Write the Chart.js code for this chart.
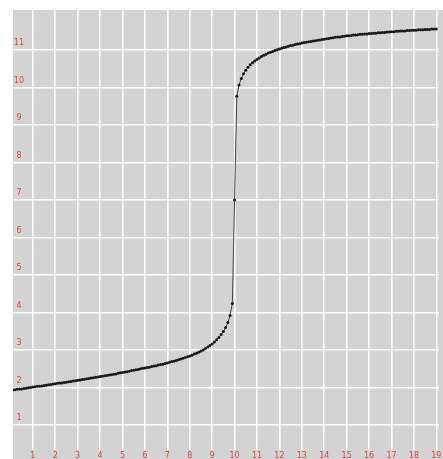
<!DOCTYPE html>
<html>
<head>
<meta charset="utf-8">
<script src="https://cdn.jsdelivr.net/npm/chart.js@4.4.1/dist/chart.umd.min.js"></script>
<style>
	html, body { margin: 0; padding: 0; background: #fff; }
	canvas { display: block; }
</style>
</head>
<body>
<canvas id="chart" width="443" height="459"></canvas>
<script>
// titration data
const volume = [
	0.0, 0.1, 0.2, 0.3, 0.4, 0.5, 0.6, 0.7, 0.8, 0.9,
	1.0, 1.1, 1.2, 1.3, 1.4, 1.5, 1.6, 1.7, 1.8, 1.9,
	2.0, 2.1, 2.2, 2.3, 2.4, 2.5, 2.6, 2.7, 2.8, 2.9,
	3.0, 3.1, 3.2, 3.3, 3.4, 3.5, 3.6, 3.7, 3.8, 3.9,
	4.0, 4.1, 4.2, 4.3, 4.4, 4.5, 4.6, 4.7, 4.8, 4.9,
	5.0, 5.1, 5.2, 5.3, 5.4, 5.5, 5.6, 5.7, 5.8, 5.9,
	6.0, 6.1, 6.2, 6.3, 6.4, 6.5, 6.6, 6.7, 6.8, 6.9,
	7.0, 7.1, 7.2, 7.3, 7.4, 7.5, 7.6, 7.7, 7.8, 7.9,
	8.0, 8.1, 8.2, 8.3, 8.4, 8.5, 8.6, 8.7, 8.8, 8.9,
	9.0, 9.1, 9.2, 9.3, 9.4, 9.5, 9.6, 9.7, 9.8, 9.9,
	10.0,
	10.1, 10.2, 10.3, 10.4, 10.5, 10.6, 10.7, 10.8, 10.9,
	11.0, 11.1, 11.2, 11.3, 11.4, 11.5, 11.6, 11.7, 11.8, 11.9,
	12.0, 12.1, 12.2, 12.3, 12.4, 12.5, 12.6, 12.7, 12.8, 12.9,
	13.0, 13.1, 13.2, 13.3, 13.4, 13.5, 13.6, 13.7, 13.8, 13.9,
	14.0, 14.1, 14.2, 14.3, 14.4, 14.5, 14.6, 14.7, 14.8, 14.9,
	15.0, 15.1, 15.2, 15.3, 15.4, 15.5, 15.6, 15.7, 15.8, 15.9,
	16.0, 16.1, 16.2, 16.3, 16.4, 16.5, 16.6, 16.7, 16.8, 16.9,
	17.0, 17.1, 17.2, 17.3, 17.4, 17.5, 17.6, 17.7, 17.8, 17.9,
	18.0, 18.1, 18.2, 18.3, 18.4, 18.5, 18.6, 18.7, 18.8, 18.9,
	19.0,
]
const acidPH = [
	1.92, 1.93, 1.94, 1.95, 1.96, 1.96, 1.97, 1.98, 1.99, 2.00,
	2.01, 2.02, 2.03, 2.03, 2.04, 2.05, 2.06, 2.07, 2.08, 2.09,
	2.10, 2.11, 2.12, 2.12, 2.13, 2.14, 2.15, 2.16, 2.17, 2.18,
	2.19, 2.20, 2.21, 2.22, 2.23, 2.24, 2.25, 2.26, 2.27, 2.28,
	2.29, 2.30, 2.31, 2.32, 2.33, 2.34, 2.35, 2.36, 2.38, 2.39,
	2.40, 2.41, 2.42, 2.43, 2.45, 2.46, 2.47, 2.48, 2.50, 2.51,
	2.52, 2.53, 2.54, 2.56, 2.57, 2.58, 2.60, 2.61, 2.62, 2.64,
	2.65, 2.67, 2.69, 2.70, 2.72, 2.74, 2.76, 2.78, 2.80, 2.82,
	2.84, 2.86, 2.89, 2.91, 2.94, 2.97, 3.00, 3.04, 3.08, 3.12,
	3.16, 3.21, 3.27, 3.33, 3.41, 3.49, 3.60, 3.73, 3.92, 4.24,
]
const equivalencePH = [7.00]
const basePH = [
	9.77, 10.07, 10.24, 10.37, 10.46, 10.54, 10.61, 10.66, 10.71,
	10.75, 10.79, 10.83, 10.86, 10.89, 10.92, 10.94, 10.96, 10.99, 11.01,
	11.03, 11.05, 11.07, 11.08, 11.10, 11.12, 11.13, 11.15, 11.16, 11.17,
	11.19, 11.20, 11.21, 11.22, 11.23, 11.24, 11.25, 11.26, 11.27, 11.28,
	11.29, 11.30, 11.31, 11.32, 11.33, 11.34, 11.35, 11.35, 11.36, 11.37,
	11.38, 11.38, 11.39, 11.40, 11.40, 11.41, 11.42, 11.42, 11.43, 11.43,
	11.44, 11.44, 11.45, 11.45, 11.46, 11.46, 11.47, 11.47, 11.48, 11.48,
	11.49, 11.49, 11.50, 11.50, 11.51, 11.51, 11.51, 11.52, 11.52, 11.53,
	11.53, 11.53, 11.54, 11.54, 11.54, 11.55, 11.55, 11.55, 11.56, 11.56,
	11.56,
]
const xTicks = [1, 2, 3, 4, 5, 6, 7, 8, 9, 10, 11, 12, 13, 14, 15, 16, 17, 18, 19]
const yTicks = [1, 2, 3, 4, 5, 6, 7, 8, 9, 10, 11]

Chart.defaults.font.family = 'DejaVu Sans'
Chart.defaults.font.size = 8

const pH = acidPH.concat(equivalencePH, basePH)
const points = volume.map((v, i) => ({ x: v, y: pH[i] }))

// gray plot panel, also under the x labels
const plotBackground = {
	id: 'plotBackground',
	beforeDraw(chart) {
		const { ctx, chartArea } = chart
		ctx.save()
		ctx.fillStyle = '#d3d3d3'
		ctx.fillRect(chartArea.left, chartArea.top, chart.width - chartArea.left, chart.height - chartArea.top)
		ctx.restore()
	},
}

const config = {
	type: 'scatter',
	data: {
		datasets: [{
			data: points,
			showLine: true,
			borderColor: '#444',
			borderWidth: 1,
			pointRadius: 1.5,
			pointBorderWidth: 0,
			pointBackgroundColor: '#1a1a1a',
		}],
	},
	options: {
		responsive: false,
		animation: false,
		events: [],
		layout: {
			padding: { top: 10, right: 0, bottom: 0, left: 0 },
		},
		plugins: {
			legend: { display: false },
			tooltip: { enabled: false },
		},
		scales: {
			x: {
				type: 'linear',
				position: 'bottom',
				min: 0.115,
				max: 19.12,
				afterBuildTicks(scale) {
					scale.ticks = xTicks.map(v => ({ value: v }))
				},
				afterFit(scale) {
					scale.height = 9
					scale.paddingLeft = 0
					scale.paddingRight = 0
				},
				border: { display: false },
				grid: {
					color: '#fff',
					lineWidth: 1.6,
					drawTicks: false,
				},
				ticks: {
					color: '#e04545',
					padding: 1,
					maxRotation: 0,
					autoSkip: false,
				},
			},
			y: {
				type: 'linear',
				position: 'left',
				min: 0.333,
				max: 12.067,
				afterBuildTicks(scale) {
					scale.ticks = yTicks.map(v => ({ value: v }))
				},
				afterFit(scale) {
					scale.width = 13
					scale.paddingTop = 0
					scale.paddingBottom = 0
				},
				border: { display: false },
				grid: {
					color: '#fff',
					lineWidth: 1.6,
					drawTicks: false,
				},
				ticks: {
					color: '#e04545',
					mirror: true,
					crossAlign: 'center',
					padding: 1,
					labelOffset: -7,
					autoSkip: false,
				},
			},
		},
	},
	plugins: [plotBackground],
}

const ctx = document.getElementById('chart').getContext('2d')
const chart = new Chart(ctx, config)
</script>
</body>
</html>
